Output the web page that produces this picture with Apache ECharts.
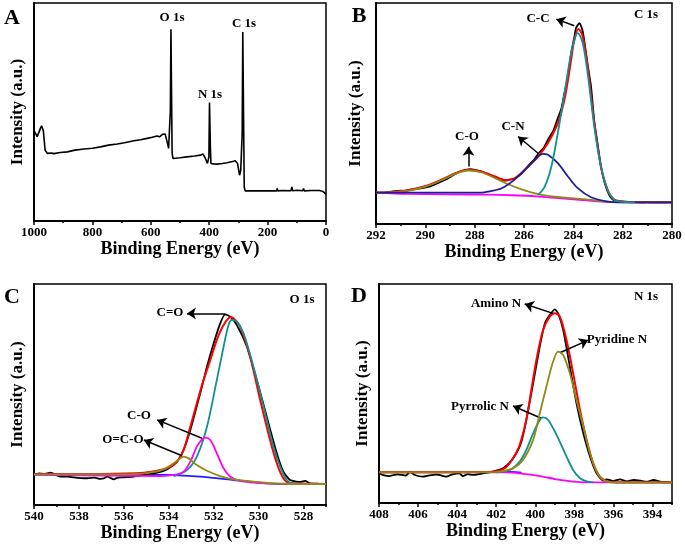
<!DOCTYPE html>
<html>
<head>
<meta charset="utf-8">
<script src="https://cdn.jsdelivr.net/npm/echarts@6/dist/echarts.min.js"></script>
<style>html,body{margin:0;padding:0;background:#fff}#c{width:685px;height:548px}</style>
</head>
<body>
<div id="c"></div>
<script>
// ---------------- DATA ----------------
// Panel A: survey spectrum [binding energy, intensity]
const A_survey = [[998,41.0],[989,38.7],[983,37.9],[978,42.5],[974,43.7],[968,41.4],[962,32.5],[954,31.0],[940,31.2],[932,30.9],[910,31.4],[886,31.7],[860,32.5],[829,33.0],[800,33.4],[772,34.0],[745,34.8],[715,35.3],[690,35.9],[658,36.8],[635,37.3],[613,37.9],[595,38.4],[579,39.0],[570,38.6],[565,38.3],[559,39.8],[556,40.5],[551,39.9],[544,36.3],[539,33.3],[535,32.5],[533,50.9],[531,88.0],[529,88.0],[527,31.0],[524,28.7],[500,29.0],[476,29.4],[450,29.8],[430,30.2],[421,30.7],[413,28.7],[406,26.4],[401,29.4],[399,54.3],[396,34.0],[394,26.4],[385,26.2],[374,26.1],[355,26.4],[339,26.7],[320,27.3],[311,27.6],[303,26.4],[296,21.0],[292,23.3],[287,40.2],[285,86.7],[282.5,86.7],[280,15.6],[277,13.8],[250,13.8],[237,13.8],[231,14.4],[226,13.8],[200,13.9],[169,13.8],[167,14.9],[165,13.8],[150,14.0],[120,13.9],[117,15.6],[114,13.9],[100,14.1],[80,13.9],[77,14.9],[74,13.8],[50,14.0],[29,14.0],[26,14.8],[22,14.0],[10,13.5],[0,12.3]];

// Panel B: C 1s
const B_raw = [[291.6,14.2],[291.33,14.7],[291.0,15.1],[290.8,14.9],[290.66,15.4],[290.4,15.8],[290.12,16.2],[289.8,17.0],[289.45,18.7],[289.1,20.5],[288.78,22.7],[288.5,24.0],[288.18,24.8],[287.95,24.4],[287.71,23.7],[287.44,22.4],[287.17,21.1],[286.9,20.2],[286.77,19.6],[286.64,19.9],[286.37,20.7],[286.1,22.8],[285.83,26.3],[285.56,29.5],[285.43,31.7],[285.2,34.5],[285.03,38.1],[284.8,42.5],[284.63,47.9],[284.49,52.0],[284.36,59.2],[284.22,66.0],[284.09,77.3],[283.96,84.5],[283.89,88.7],[283.75,90.9],[283.62,87.2],[283.42,72.1],[283.28,62.0],[283.15,46.4],[283.0,35.0],[282.88,26.0],[282.75,19.5],[282.61,14.8],[282.48,12.0],[282.35,10.7],[282.1,10.2],[281.94,10.1],[281.5,9.9],[281.27,9.8],[281.0,9.9],[280.7,9.8],[280.3,9.8],[280.0,9.8]];
const B_fit = [[292,14.2],[291.33,14.5],[290.66,15.4],[289.99,17.2],[289.32,20.2],[288.78,23.0],[288.25,24.5],[287.71,23.7],[287.17,21.5],[286.77,19.9],[286.37,20.7],[285.83,26.0],[285.43,30.5],[285.03,36.6],[284.63,45.6],[284.36,56.2],[284.09,74.3],[283.96,83.4],[283.79,88.2],[283.62,84.9],[283.42,71.3],[283.15,45.6],[282.88,26.0],[282.61,15.4],[282.35,11.2],[281.94,10.1],[281.27,9.8],[280,9.8]];
const B_CO = [[292,14.2],[291.33,14.4],[290.66,15.1],[289.99,16.9],[289.32,19.9],[288.78,22.7],[288.25,24.2],[287.71,23.3],[287.17,20.7],[286.64,18.0],[286.1,15.7],[285.56,13.9],[285.03,12.7],[284.49,12.1],[283.96,11.6],[283.28,10.9],[282.61,10.1],[281.94,9.8],[280,9.8]];
const B_CN = [[292,14.2],[288.5,14.2],[287.71,14.2],[287.44,14.7],[286.9,16.2],[286.37,20.2],[285.83,26.0],[285.43,30.5],[285.23,31.7],[285.03,31.3],[284.63,27.5],[284.22,21.5],[283.82,16.2],[283.28,12.1],[282.61,10.1],[282.21,9.8],[280,9.8]];
const B_CC = [[285.43,13.1],[285.16,16.9],[284.89,26.0],[284.63,41.1],[284.36,59.2],[284.09,77.3],[283.89,85.6],[283.82,86.4],[283.62,81.9],[283.42,68.3],[283.15,44.1],[282.88,26.0],[282.61,15.4],[282.35,10.9],[282.08,10.1],[281.5,9.8]];
const B_bg = [[292,14.2],[290.8,13.6],[289,13.4],[287.5,13.3],[286.5,13.0],[285.5,12.5],[284.5,11.6],[283.5,10.7],[282.8,10.1],[282,9.9],[280,9.8]];

// Panel C: O 1s
const C_raw = [[540,13.6],[539.78,14.3],[539.56,14.0],[539.26,14.6],[538.82,12.8],[538.5,12.9],[538.22,12.5],[537.9,12.2],[537.63,12.1],[537.3,12.4],[537.04,11.8],[536.9,12.0],[536.74,12.8],[536.6,12.3],[536.45,11.6],[536.3,12.3],[536.15,12.5],[535.85,12.6],[535.56,12.8],[535.11,13.6],[534.52,14.6],[534.08,16.1],[533.63,19.6],[533.34,24.9],[533.04,33.9],[532.6,50.5],[532.3,62.6],[532.0,73.2],[531.71,82.2],[531.49,86.3],[531.26,85.2],[530.97,81.4],[530.52,71.6],[530.08,56.6],[529.64,40.0],[529.19,23.4],[528.9,15.1],[528.6,11.3],[528.15,10.4],[527.93,10.9],[527.71,9.8],[527.3,9.6],[527,9.5]];
const C_fit = [[540,13.9],[537.04,14.0],[535.11,14.6],[534.37,15.8],[533.93,17.3],[533.63,19.6],[533.34,24.9],[533.04,35.4],[532.75,46.0],[532.45,56.6],[532.15,65.6],[531.86,74.7],[531.56,81.4],[531.26,84.9],[531.12,84.5],[530.82,80.7],[530.38,67.1],[529.93,47.5],[529.49,29.4],[529.19,18.9],[528.9,12.1],[528.6,9.8],[527,9.5]];
const C_OCO = [[540,13.9],[537.04,13.9],[535.56,14.0],[534.82,14.6],[534.23,16.1],[533.78,18.9],[533.49,21.1],[533.34,21.9],[533.12,21.1],[532.75,18.1],[532.3,15.5],[531.71,13.1],[531.12,11.6],[530.23,10.6],[529.34,9.8],[528.6,9.5],[527,9.5]];
const C_CO = [[540,13.6],[534.37,13.1],[533.78,13.6],[533.34,15.1],[533.04,19.6],[532.75,26.4],[532.52,29.7],[532.38,30.5],[532.15,29.4],[531.86,23.4],[531.56,16.6],[531.26,12.8],[530.82,10.9],[530.23,10.1],[529.64,9.8],[527,9.5]];
const C_CdO = [[533.78,13.1],[533.19,15.8],[532.75,21.9],[532.3,35.4],[531.86,56.6],[531.56,71.6],[531.34,81.4],[531.19,83.7],[530.97,83.0],[530.67,77.7],[530.23,62.6],[529.78,44.5],[529.34,26.4],[529.04,17.3],[528.75,11.3],[528.45,9.8],[527,9.5]];
const C_bg = [[540,13.9],[536,13.8],[534.08,13.6],[532.6,12.8],[531.12,11.3],[529.64,9.8],[528.75,9.5],[527,9.5]];

// Panel D: N 1s
const D_raw = [[408,14.0],[407.83,12.8],[407.49,12.3],[407.06,13.1],[406.63,12.5],[406.4,14.2],[406.2,12.9],[405.77,12.0],[405.43,12.6],[405.1,13.0],[404.91,12.8],[404.57,12.0],[404.23,13.1],[403.89,13.5],[403.71,12.3],[403.45,13.2],[403.2,12.8],[402.69,13.5],[402.17,14.3],[401.66,15.8],[401.31,18.4],[400.97,22.7],[400.71,28.0],[400.46,37.9],[400.11,54.6],[399.77,71.4],[399.51,82.0],[399.26,85.8],[399.0,88.4],[398.83,86.6],[398.57,79.0],[398.23,62.3],[397.89,45.5],[397.54,31.8],[397.2,21.2],[396.86,13.5],[396.51,10.2],[396.34,10.8],[396.0,10.0],[395.66,10.8],[395.31,9.9],[394.97,10.5],[394.63,10.2],[394.29,9.7],[393.94,10.5],[393.6,9.7],[393,9.4]];
const D_fit = [[408,14.0],[402.34,14.2],[401.83,14.8],[401.49,16.3],[401.14,20.4],[400.8,26.5],[400.46,37.9],[400.2,51.6],[399.94,65.4],[399.6,79.0],[399.26,85.1],[399.0,86.6],[398.74,85.1],[398.4,74.4],[398.06,59.2],[397.71,42.5],[397.37,28.8],[397.03,18.1],[396.69,12.0],[396.34,9.9],[395.83,9.4],[393,9.4]];
const D_pyridine = [[408,14.0],[402.34,14.0],[401.83,14.3],[401.14,15.8],[400.63,19.6],[400.11,28.8],[399.77,40.9],[399.43,53.1],[399.09,64.5],[398.83,69.1],[398.57,67.6],[398.23,59.2],[397.89,47.0],[397.54,34.9],[397.2,22.7],[396.86,14.3],[396.51,10.5],[396.0,9.4],[393,9.4]];
const D_pyrrolic = [[402.0,14.0],[401.31,15.1],[400.8,18.9],[400.46,24.2],[400.11,31.8],[399.77,37.9],[399.6,39.1],[399.34,37.9],[398.91,31.1],[398.4,21.2],[398.06,15.1],[397.71,11.3],[397.37,9.9],[397.03,9.4]];
const D_blue = [[402.3,14.2],[401.5,14.3],[400.7,13.9]];
const D_bg = [[408,14.0],[401.49,14.0],[400.8,13.5],[399.77,12.3],[398.91,10.8],[398.06,9.8],[397.03,9.4],[393,9.4]];

// Tick values
const A_ticks = [0,200,400,600,800,1000];
const B_ticks = [280,282,284,286,288,290,292];
const C_ticks = [528,530,532,534,536,538,540];
const D_ticks = [394,396,398,400,402,404,406,408];

// Arrow annotations [[x1,y1],[x2,y2]] (tail -> head)
const B_arrows = [[[283.96,89.7],[284.69,92.7]],[[285.43,32.0],[286.24,39.6]],[[288.25,26.0],[288.25,35.0]]];
const C_arrows = [[[531.49,86.7],[533.19,86.7]],[[532.52,30.2],[534.52,38.5]],[[533.41,22.3],[535.11,29.4]]];
const D_arrows = [[[399.09,86.6],[400.54,90.9]],[[398.74,68.6],[397.29,74.4]],[[399.69,38.7],[401.14,44.3]]];

// ---------------- CHART ----------------
const FONT = '"Liberation Serif","Times New Roman",serif';
const grids = [
  {left:34, top:3, width:292, height:218},
  {left:376, top:3, width:296, height:221},
  {left:34, top:284, width:292, height:221},
  {left:379, top:284, width:293, height:219}
];
const ranges = [[0,1000],[280,292],[527,540],[393,408]];
const majors = [A_ticks,B_ticks,C_ticks,D_ticks];
const minorInt = [100,1,1,1];

const xAxes = [], yAxes = [];
for (let i=0;i<4;i++){
  xAxes.push({
    type:'value', gridIndex:i, position:'bottom', inverse:true, min:ranges[i][0], max:ranges[i][1],
    name:'Binding Energy (eV)', nameLocation:'middle', nameGap: i<2?16:19,
    nameTextStyle:{fontFamily:FONT, fontWeight:'bold', fontSize:18, color:'#000'},
    axisLine:{show:true, onZero:false, lineStyle:{color:'#000', width:2}},
    axisTick:{show:true, inside:false, length:4, lineStyle:{color:'#000', width:1.5}, customValues:majors[i]},
    axisLabel:{show:true, margin:5, fontFamily:FONT, fontWeight:'bold', fontSize:13, color:'#000', customValues:majors[i],
      formatter:function(v){return String(v);}},
    splitLine:{show:false}
  });
}
for (let i=0;i<4;i++){
  xAxes.push({
    type:'value', gridIndex:i, position:'bottom', inverse:true, min:ranges[i][0], max:ranges[i][1], interval:minorInt[i],
    axisLine:{show:false}, axisLabel:{show:false}, splitLine:{show:false},
    axisTick:{show:true, inside:false, length:2, lineStyle:{color:'#000', width:1.5}}
  });
}
const yGaps = [8,12,8,8];
for (let i=0;i<4;i++){
  yAxes.push({
    type:'value', gridIndex:i, min:0, max:100,
    name:'Intensity (a.u.)', nameLocation:'middle', nameGap:yGaps[i],
    nameTextStyle:{fontFamily:FONT, fontWeight:'bold', fontSize:17, color:'#000'},
    axisLine:{show:true, onZero:false, lineStyle:{color:'#000', width:2}},
    axisTick:{show:false}, axisLabel:{show:false}, splitLine:{show:false}
  });
}

function line(data, color, idx, width, smooth, z){
  return {type:'line', xAxisIndex:idx, yAxisIndex:idx, data:data, symbol:'none', showSymbol:false,
    smooth:smooth, lineStyle:{color:color, width:width}, z:z||2, silent:true, animation:false};
}
function arrows(list, idx){
  return {type:'line', xAxisIndex:idx, yAxisIndex:idx, data:[], symbol:'none', z:10, animation:false,
    markLine:{silent:true, animation:false, symbol:['none','arrow'], symbolSize:9,
      label:{show:false}, lineStyle:{color:'#000', width:1.5, type:'solid'},
      data:list.map(a=>[{coord:a[0]},{coord:a[1]}])}};
}

const BLACK='#000000', RED='#ff0000', OLIVE='#8c8c14', TEAL='#109090', NAVY='#1c1c9c', MAG='#ff00ff', BLUE='#2020ff';

const series = [
  line(A_survey, BLACK, 0, 1.6, false, 2),

  line(B_bg, MAG, 1, 1.8, 0.2, 2),
  line(B_raw, BLACK, 1, 1.8, 0.2, 3),
  line(B_fit, RED, 1, 2, 0.3, 4),
  line(B_CO, OLIVE, 1, 1.8, 0.3, 5),
  line(B_CN, NAVY, 1, 1.8, 0.3, 5),
  line(B_CC, TEAL, 1, 1.8, 0.3, 6),
  arrows(B_arrows, 1),

  line(C_bg, BLUE, 2, 1.8, 0.2, 2),
  line(C_raw, BLACK, 2, 1.8, 0.2, 3),
  line(C_fit, RED, 2, 2, 0.3, 4),
  line(C_CdO, TEAL, 2, 1.8, 0.3, 5),
  line(C_CO, MAG, 2, 1.8, 0.3, 5),
  line(C_OCO, OLIVE, 2, 1.8, 0.3, 6),
  arrows(C_arrows, 2),

  line(D_blue, BLUE, 3, 1.8, 0.2, 2),
  line(D_bg, MAG, 3, 1.8, 0.2, 2),
  line(D_raw, BLACK, 3, 1.8, 0.2, 3),
  line(D_fit, RED, 3, 2, 0.3, 4),
  line(D_pyrrolic, TEAL, 3, 1.8, 0.3, 5),
  line(D_pyridine, OLIVE, 3, 1.8, 0.3, 6),
  arrows(D_arrows, 3)
];

function txt(s, x, y, size){
  return {type:'text', x:x, y:y, silent:true, z:100,
    style:{text:s, fill:'#000', font:'bold '+size+'px '+FONT, textAlign:'center', textVerticalAlign:'middle'}};
}
const graphic = [
  txt('A',12,18,22), txt('B',359,16,22), txt('C',12,297,22), txt('D',359,296,22),
  txt('O 1s',172,18,13), txt('N 1s',210,95,13), txt('C 1s',244,24,13),
  txt('C 1s',646,15,13), txt('C-C',538,19,13), txt('C-N',513,127,13), txt('C-O',467,137,13),
  txt('O 1s',302,300,13), txt('C=O',170,313,13), txt('C-O',139,416,13), txt('O=C-O',123,440,13),
  txt('N 1s',646,297,13), txt('Amino N',496,304,13), txt('Pyridine N',617,340,13), txt('Pyrrolic N',480,407,13)
];

const chart = echarts.init(document.getElementById('c'), null, {renderer:'canvas'});
chart.setOption({
  animation:false,
  backgroundColor:'#fff',
  grid: grids.map(g=>Object.assign({show:true, borderColor:'#000', borderWidth:1.5, containLabel:false}, g)),
  xAxis: xAxes, yAxis: yAxes, series: series, graphic: graphic
});
</script>
</body>
</html>
